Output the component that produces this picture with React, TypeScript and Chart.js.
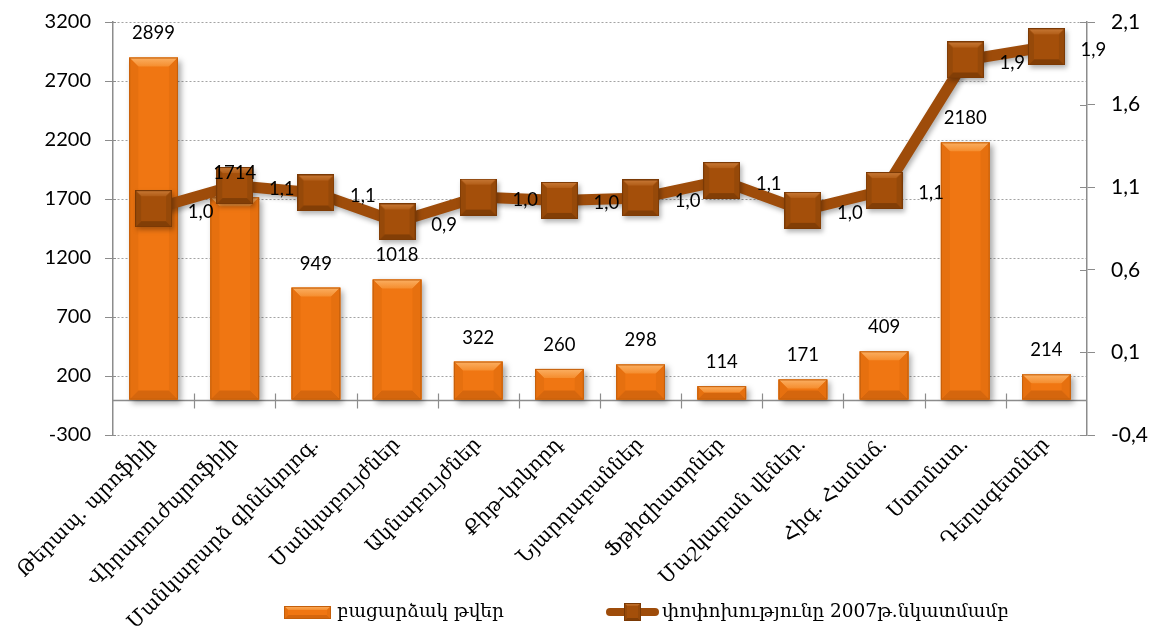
import React, { useEffect, useRef } from "react";
import { Chart, registerables } from "chart.js";

Chart.register(...registerables);

// ---------- data ----------
const categories = [
  "Թերապ. պրոֆիլի",
  "Վիրաբուժպրոֆիլի",
  "Մանկաբարձ գինեկոլոգ.",
  "Մանկաբույժներ",
  "Ակնաբույժներ",
  "Քիթ-կոկորդ",
  "Նյարդաբաններ",
  "Ֆթիզիատրներ",
  "Մաշկաբան վեներ.",
  "Հիգ. Համաճ.",
  "Ստոմատ.",
  "Դեղագետներ",
];
const absoluteNumbers = [2899, 1714, 949, 1018, 322, 260, 298, 114, 171, 409, 2180, 214];
const changeVs2007 = [0.97, 1.11, 1.065, 0.89, 1.04, 1.02, 1.035, 1.14, 0.96, 1.08, 1.87, 1.95];
const leftAxisTicks = [-300, 200, 700, 1200, 1700, 2200, 2700, 3200];
const rightAxisTicks = [-0.4, 0.1, 0.6, 1.1, 1.6, 2.1];
const seriesNames = ["բացարձակ թվեր", "փոփոխությունը 2007թ.նկատմամբ"];

// ---------- styles ----------
const NUM_FONT = "Lato";
const ARM_FONT = "'DejaVu Serif'";
const BAR_COLORS = { face: "#F07612", top1: "#FBB063", top2: "#F58D2E", bottom: "#D5660D", side: "#E6700F", outline: "#C45F0B" };
const MARK_COLORS = { face: "#A44F0A", top1: "#C97A38", top2: "#B25E18", bottom: "#823E06", side: "#964909", outline: "#7A3905" };
const LINE_COLOR = "#9E4C0A";
const GRID_COLOR = "#A3A3A3";
const AXIS_COLOR = "#8C8C8C";

const fmt1 = (v: number) => v.toFixed(1).replace(".", ",");

function poly(ctx: CanvasRenderingContext2D, pts: number[][], fill: string | CanvasGradient) {
  ctx.beginPath();
  ctx.moveTo(pts[0][0], pts[0][1]);
  for (let i = 1; i < pts.length; i++) ctx.lineTo(pts[i][0], pts[i][1]);
  ctx.closePath();
  ctx.fillStyle = fill;
  ctx.fill();
}

function bevel(ctx: CanvasRenderingContext2D, l: number, t: number, w: number, h: number, b0: number, c: any) {
  const r = l + w;
  const bt = t + h;
  const b = Math.max(0, Math.min(b0, h / 2, w / 2));
  ctx.save();
  ctx.fillStyle = c.face;
  ctx.fillRect(l, t, w, h);
  const g = ctx.createLinearGradient(0, t, 0, t + b);
  g.addColorStop(0, c.top1);
  g.addColorStop(1, c.top2);
  poly(ctx, [[l, t], [r, t], [r - b, t + b], [l + b, t + b]], g);
  poly(ctx, [[l, bt], [r, bt], [r - b, bt - b], [l + b, bt - b]], c.bottom);
  poly(ctx, [[l, t], [l + b, t + b], [l + b, bt - b], [l, bt]], c.side);
  poly(ctx, [[r, t], [r - b, t + b], [r - b, bt - b], [r, bt]], c.side);
  ctx.strokeStyle = c.outline;
  ctx.lineWidth = 1;
  ctx.strokeRect(l + 0.5, t + 0.5, w - 1, h - 1);
  ctx.restore();
}

function makeMarker(size: number): HTMLCanvasElement {
  const cv = document.createElement("canvas");
  cv.width = size;
  cv.height = size;
  const ctx = cv.getContext("2d")!;
  bevel(ctx, 0, 0, size, size, Math.round(size / 6), MARK_COLORS);
  return cv;
}

const decorPlugin = {
  id: "decor",
  beforeDatasetDraw(chart: any, args: any) {
    const ctx = chart.ctx;
    ctx.save();
    if (args.index === 0) {
      ctx.shadowColor = "rgba(0,0,0,0.35)";
      ctx.shadowBlur = 6;
      ctx.shadowOffsetX = 3;
      ctx.shadowOffsetY = 3;
    } else {
      ctx.shadowColor = "rgba(0,0,0,0.3)";
      ctx.shadowBlur = 5;
      ctx.shadowOffsetX = 2;
      ctx.shadowOffsetY = 3;
    }
  },
  afterDatasetDraw(chart: any, args: any) {
    const ctx = chart.ctx;
    ctx.restore();
    if (args.index === 0) {
      const meta = chart.getDatasetMeta(0);
      meta.data.forEach((el: any) => {
        const w = el.width;
        const top = Math.min(el.y, el.base);
        const h = Math.abs(el.base - el.y);
        bevel(ctx, el.x - w / 2, top, w, h, 9, BAR_COLORS);
      });
    }
  },
  beforeDatasetsDraw(chart: any) {
    // zero (category) axis line with cross tick marks
    const ctx = chart.ctx;
    const x = chart.scales.x;
    const y0 = Math.round(chart.scales.y.getPixelForValue(0)) + 0.5;
    const { left, right } = chart.chartArea;
    ctx.save();
    ctx.strokeStyle = AXIS_COLOR;
    ctx.lineWidth = 1.5;
    ctx.beginPath();
    ctx.moveTo(left, y0);
    ctx.lineTo(right, y0);
    ctx.stroke();
    const n = categories.length;
    const half = (x.getPixelForValue(1) - x.getPixelForValue(0)) / 2;
    ctx.lineWidth = 1.2;
    for (let i = 1; i < n; i++) {
      const bx = Math.round(x.getPixelForValue(i) - half) + 0.5;
      ctx.beginPath();
      ctx.moveTo(bx, y0 - 7);
      ctx.lineTo(bx, y0 + 8);
      ctx.stroke();
    }
    // inner part of value-axis tick marks
    const yl = chart.scales.y;
    const yr = chart.scales.y1;
    ctx.lineWidth = 1;
    yl.ticks.forEach((t: any) => {
      const py = Math.round(yl.getPixelForValue(t.value)) + 0.5;
      ctx.beginPath();
      ctx.moveTo(left, py);
      ctx.lineTo(left + 3, py);
      ctx.stroke();
    });
    yr.ticks.forEach((t: any) => {
      const py = Math.round(yr.getPixelForValue(t.value)) + 0.5;
      ctx.beginPath();
      ctx.moveTo(right - 7, py);
      ctx.lineTo(right, py);
      ctx.stroke();
    });
    ctx.restore();
  },
  afterDraw(chart: any) {
    const ctx = chart.ctx;
    ctx.save();
    ctx.fillStyle = "#000";
    ctx.textAlign = "center";
    ctx.textBaseline = "middle";
    ctx.font = `18.5px ${NUM_FONT}`;
    const bars = chart.getDatasetMeta(0).data;
    bars.forEach((el: any, i: number) => {
      ctx.fillText(String(absoluteNumbers[i]), el.x, el.y - 24);
    });
    const pts = chart.getDatasetMeta(1).data;
    pts.forEach((el: any, i: number) => {
      ctx.fillText(fmt1(changeVs2007[i]), el.x + 47, el.y + 3);
    });

    // legend
    const ly = 612;
    bevel(ctx, 284, 606, 47, 13, 4, BAR_COLORS);
    ctx.textAlign = "left";
    ctx.font = `18.5px ${ARM_FONT}`;
    ctx.fillText(seriesNames[0], 337, ly);
    ctx.strokeStyle = LINE_COLOR;
    ctx.lineWidth = 8;
    ctx.lineCap = "round";
    ctx.beginPath();
    ctx.moveTo(610, ly);
    ctx.lineTo(655, ly);
    ctx.stroke();
    bevel(ctx, 624, 603, 17, 18, 3, MARK_COLORS);
    ctx.fillText(seriesNames[1], 662, ly);
    ctx.restore();
  },
};

export default function App() {
  const ref = useRef<HTMLCanvasElement | null>(null);
  useEffect(() => {
    if (!ref.current) return;
    const marker = makeMarker(37);
    const chart = new Chart(ref.current, {
      data: {
        labels: categories,
        datasets: [
          {
            type: "bar",
            label: seriesNames[0],
            data: absoluteNumbers,
            yAxisID: "y",
            backgroundColor: BAR_COLORS.face,
            barPercentage: 0.6,
            categoryPercentage: 1,
            order: 2,
          },
          {
            type: "line",
            label: seriesNames[1],
            data: changeVs2007,
            yAxisID: "y1",
            borderColor: LINE_COLOR,
            borderWidth: 11,
            pointStyle: marker as any,
            pointRadius: 19,
            pointHoverRadius: 19,
            tension: 0,
            clip: false,
            order: 1,
          },
        ],
      } as any,
      options: {
        responsive: false,
        animation: false,
        events: [],
        layout: { autoPadding: false, padding: { top: 22, left: 0, right: 0, bottom: 0 } },
        plugins: { legend: { display: false }, tooltip: { enabled: false } },
        scales: {
          x: {
            grid: { display: false },
            border: { display: false },
            ticks: {
              autoSkip: false,
              maxRotation: 45,
              minRotation: 45,
              padding: -10,
              color: "#000",
              font: { family: "DejaVu Serif", size: 20 },
            },
            afterFit(s: any) {
              s.height = 192;
            },
          },
          y: {
            position: "left",
            min: leftAxisTicks[0],
            max: leftAxisTicks[leftAxisTicks.length - 1],
            ticks: {
              stepSize: leftAxisTicks[1] - leftAxisTicks[0],
              padding: 14,
              color: "#000",
              font: { family: NUM_FONT, size: 20 },
              callback: (v: any) => String(v),
            },
            grid: { color: GRID_COLOR, lineWidth: 1, tickColor: AXIS_COLOR, tickLength: 8 },
            border: { color: AXIS_COLOR, width: 1.5, dash: [2, 2] },
            afterFit(s: any) {
              s.width = 113;
              s.paddingTop = 0;
              s.paddingBottom = 0;
            },
          },
          y1: {
            position: "right",
            min: rightAxisTicks[0],
            max: rightAxisTicks[rightAxisTicks.length - 1],
            ticks: {
              stepSize: Math.round((rightAxisTicks[1] - rightAxisTicks[0]) * 10) / 10,
              padding: 16,
              color: "#000",
              font: { family: NUM_FONT, size: 21 },
              callback: (v: any) => fmt1(Number(v)),
            },
            grid: { drawOnChartArea: false, tickColor: AXIS_COLOR, tickLength: 8 },
            border: { color: AXIS_COLOR, width: 1.5 },
            afterFit(s: any) {
              s.width = 62;
              s.paddingTop = 0;
              s.paddingBottom = 0;
            },
          },
        },
      } as any,
      plugins: [decorPlugin],
    });
    return () => chart.destroy();
  }, []);
  return (
    <div style={{ position: "absolute", left: 0, top: 0, width: 1149, height: 627, background: "#fff" }}>
      <canvas ref={ref} width={1149} height={627} />
    </div>
  );
}
